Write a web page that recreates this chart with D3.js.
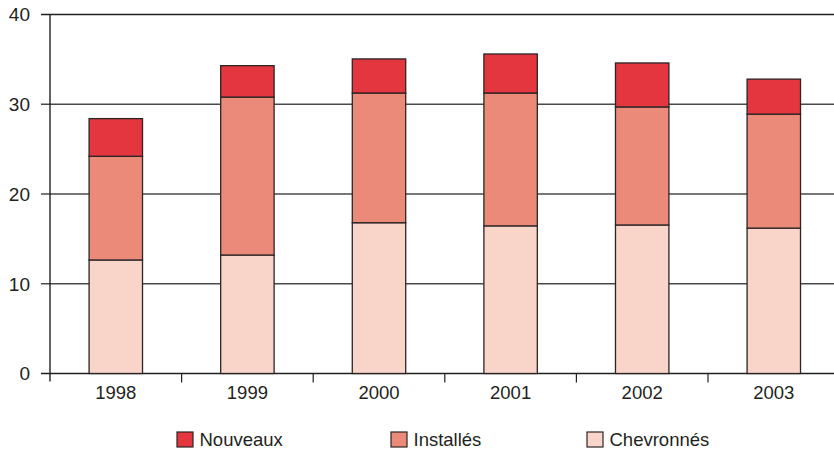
<!DOCTYPE html>
<html>
<head>
<meta charset="utf-8">
<script src="https://cdn.jsdelivr.net/npm/d3@7"></script>
<style>
  body { margin: 0; background: #fff; }
  svg text { font-family: "Liberation Sans", Arial, sans-serif; fill: #231f20; }
</style>
</head>
<body>
<svg id="chart" width="834" height="450"></svg>
<script>
// Effectifs par année, empilés par catégorie
const years = ["1998", "1999", "2000", "2001", "2002", "2003"];
const chevronnes = [12.65, 13.2, 16.8, 16.45, 16.55, 16.2];
const installes = [11.55, 17.6, 14.45, 14.8, 13.15, 12.7];
const nouveaux = [4.2, 3.5, 3.8, 4.35, 4.9, 3.9];
const seriesNames = ["Chevronnés", "Installés", "Nouveaux"];
const legendOrder = ["Nouveaux", "Installés", "Chevronnés"];
const yTicks = [0, 10, 20, 30, 40];

const colors = { "Chevronnés": "#f8d4c9", "Installés": "#ec8a79", "Nouveaux": "#e3363e" };

const rows = years.map((y, i) => ({
  year: y,
  "Chevronnés": chevronnes[i],
  "Installés": installes[i],
  "Nouveaux": nouveaux[i]
}));

const svg = d3.select("#chart");
const x0 = 50, x1 = 839.6, yBase = 373.5, yTop = 14.5;

const x = d3.scaleBand().domain(years).range([x0, x1]).paddingInner(0.594).paddingOuter(0.297);
const y = d3.scaleLinear().domain([0, 40]).range([yBase, yTop]);

// Lignes horizontales de la grille
svg.append("g").selectAll("line").data(yTicks).join("line")
  .attr("x1", 41).attr("x2", 834)
  .attr("y1", d => y(d)).attr("y2", d => y(d))
  .attr("stroke", d => d === 0 || d === 40 ? "#231f20" : "#4a4a4a")
  .attr("stroke-width", 1.4);

// Axe vertical
svg.append("line").attr("x1", x0).attr("x2", x0).attr("y1", y(40)).attr("y2", yBase + 8)
  .attr("stroke", "#231f20").attr("stroke-width", 1.4);

// Graduations entre les catégories
const step = x.step();
svg.append("g").selectAll("line").data(d3.range(1, years.length)).join("line")
  .attr("x1", d => x0 + d * step).attr("x2", d => x0 + d * step)
  .attr("y1", yBase).attr("y2", yBase + 9)
  .attr("stroke", "#231f20").attr("stroke-width", 1.2);

// Libellés de l'axe Y
svg.append("g").selectAll("text").data(yTicks).join("text")
  .attr("x", 30).attr("y", d => y(d) + 6.8)
  .attr("text-anchor", "end").attr("font-size", 19)
  .text(d => d);

// Barres empilées
const stack = d3.stack().keys(seriesNames);
const layers = stack(rows);
svg.append("g").selectAll("g").data(layers).join("g")
  .attr("fill", d => colors[d.key])
  .selectAll("rect").data(d => d).join("rect")
  .attr("x", d => x(d.data.year))
  .attr("width", x.bandwidth())
  .attr("y", d => y(d[1]))
  .attr("height", d => y(d[0]) - y(d[1]))
  .attr("stroke", "#2b2526").attr("stroke-width", 1.3);

// Libellés de l'axe X
svg.append("g").selectAll("text").data(years).join("text")
  .attr("x", d => x(d) + x.bandwidth() / 2).attr("y", 399)
  .attr("text-anchor", "middle").attr("font-size", 18.5)
  .text(d => d);

// Légende
const legendX = [177, 391, 587];
const lg = svg.append("g").selectAll("g").data(legendOrder).join("g")
  .attr("transform", (d, i) => `translate(${legendX[i]},432)`);
lg.append("rect").attr("width", 16).attr("height", 15)
  .attr("fill", d => colors[d]).attr("stroke", "#2b2526").attr("stroke-width", 1.2);
lg.append("text").attr("x", 22.5).attr("y", 13.5).attr("font-size", 18.5).text(d => d);
</script>
</body>
</html>
